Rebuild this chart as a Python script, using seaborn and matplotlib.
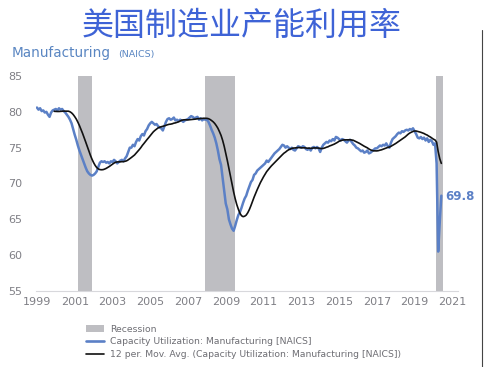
import numpy as np
import pandas as pd
import matplotlib
matplotlib.use("Agg")
import matplotlib.pyplot as plt
from matplotlib.patches import Patch
from matplotlib.lines import Line2D
import seaborn as sns

# ---- data (monthly) ----
cu_1999 = [80.6, 80.3, 80.5, 80.1, 80.2, 79.9, 80.0, 79.6, 79.3, 79.9, 80.2, 80.3]
cu_2000 = [80.4, 80.2, 80.5, 80.3, 80.4, 80.1, 79.9, 79.6, 79.3, 78.9, 78.4, 77.6]
cu_2001 = [76.8, 76.1, 75.3, 74.6, 74.0, 73.4, 72.8, 72.2, 71.7, 71.4, 71.2, 71.1]
cu_2002 = [71.2, 71.4, 71.7, 72.3, 72.9, 73.1, 73.0, 73.1, 72.9, 73.0, 72.8, 73.1]
cu_2003 = [73.0, 73.3, 73.1, 72.8, 73.0, 73.2, 73.3, 73.1, 73.5, 73.8, 74.4, 75.0]
cu_2004 = [75.0, 75.4, 75.2, 75.8, 76.2, 76.0, 76.6, 76.9, 76.7, 77.3, 77.6, 78.1]
cu_2005 = [78.4, 78.6, 78.4, 78.2, 78.3, 78.0, 77.8, 77.7, 77.4, 78.0, 78.6, 79.0]
cu_2006 = [79.1, 78.9, 79.0, 79.2, 78.8, 78.9, 78.7, 78.9, 78.8, 78.6, 78.8, 78.9]
cu_2007 = [79.0, 79.2, 79.4, 79.3, 79.1, 79.2, 79.3, 78.9, 79.1, 78.8, 79.0, 78.9]
cu_2008 = [78.9, 78.6, 78.1, 77.5, 77.0, 76.4, 75.6, 74.6, 73.4, 72.6, 70.8, 68.9]
cu_2009 = [67.2, 66.4, 65.0, 64.3, 63.7, 63.4, 64.1, 64.9, 65.6, 66.0, 66.6, 67.3]
cu_2010 = [67.9, 68.3, 69.0, 69.6, 70.2, 70.5, 71.2, 71.4, 71.8, 72.0, 72.2, 72.4]
cu_2011 = [72.6, 72.8, 73.2, 73.0, 73.3, 73.6, 73.9, 74.2, 74.4, 74.6, 74.8, 75.1]
cu_2012 = [75.4, 75.3, 75.0, 75.2, 75.0, 74.8, 75.0, 74.7, 74.6, 74.9, 75.2, 75.1]
cu_2013 = [75.0, 75.2, 75.1, 74.8, 74.7, 74.9, 74.6, 75.0, 75.1, 74.9, 75.1, 74.9]
cu_2014 = [74.4, 75.0, 75.4, 75.6, 75.8, 75.7, 76.0, 75.9, 76.2, 76.0, 76.5, 76.4]
cu_2015 = [76.2, 76.0, 76.2, 76.1, 75.9, 75.7, 76.0, 76.1, 75.8, 75.5, 75.3, 75.0]
cu_2016 = [74.9, 74.7, 74.5, 74.6, 74.3, 74.4, 74.6, 74.2, 74.3, 74.5, 74.7, 74.9]
cu_2017 = [74.9, 75.1, 75.3, 75.2, 75.4, 75.3, 75.6, 75.2, 75.0, 75.7, 76.2, 76.4]
cu_2018 = [76.6, 76.9, 77.1, 77.0, 77.3, 77.2, 77.4, 77.5, 77.4, 77.6, 77.5, 77.7]
cu_2019 = [77.3, 76.9, 76.4, 76.3, 76.5, 76.2, 76.4, 76.0, 76.3, 75.8, 76.1, 75.9]
cu_2020 = [75.4, 75.6, 72.8, 60.5, 64.6, 68.3]

recession_start = [2001.17, 2007.92, 2020.12]
recession_end = [2001.92, 2009.50, 2020.50]

year_ticks = list(range(1999, 2022, 2))
y_ticks = [55, 60, 65, 70, 75, 80, 85]
last_label = "69.8"

title = "美国制造业产能利用率"
subtitle = "Manufacturing"
subtitle_small = "(NAICS)"
legend_labels = ["Recession",
                 "Capacity Utilization: Manufacturing [NAICS]",
                 "12 per. Mov. Avg. (Capacity Utilization: Manufacturing [NAICS])"]

# ---- build frame ----
values = (cu_1999 + cu_2000 + cu_2001 + cu_2002 + cu_2003 + cu_2004 + cu_2005 +
          cu_2006 + cu_2007 + cu_2008 + cu_2009 + cu_2010 + cu_2011 + cu_2012 +
          cu_2013 + cu_2014 + cu_2015 + cu_2016 + cu_2017 + cu_2018 + cu_2019 + cu_2020)
t = 1999 + np.arange(len(values)) / 12.0
df = pd.DataFrame({"t": t, "cu": values})
df["ma"] = df["cu"].rolling(12).mean()

BLUE = "#5B80C6"
GRAY = "#BEBEC2"
TXT = "#7F7F85"

sns.set_theme(style="white")
plt.rcParams["font.family"] = ["DejaVu Sans", "Noto Sans CJK SC"]

fig = plt.figure(figsize=(4.84, 3.67), dpi=100)
ax = fig.add_axes([36/484, 1 - 291/367, (458 - 36)/484, (291 - 76)/367])

for s, e in zip(recession_start, recession_end):
    ax.axvspan(s, e, color=GRAY, lw=0, zorder=0)

sns.lineplot(data=df, x="t", y="cu", ax=ax, color=BLUE, lw=1.8, zorder=3)
sns.lineplot(data=df.dropna(), x="t", y="ma", ax=ax, color="#111111", lw=1.2, zorder=4)

ax.set_xlim(1998.95, 2021.3)
ax.set_ylim(55, 85)
ax.set_xticks(year_ticks)
ax.set_xticklabels([str(y) for y in year_ticks])
ax.set_yticks(y_ticks)
ax.tick_params(axis="both", length=0, labelsize=8, colors=TXT)
ax.tick_params(axis="x", pad=4)
ax.tick_params(axis="y", pad=10)
ax.set_xlabel("")
ax.set_ylabel("")
for side in ["top", "right", "left"]:
    ax.spines[side].set_visible(False)
ax.spines["bottom"].set_color("#D8D8DC")
ax.spines["bottom"].set_linewidth(0.8)
ax.grid(False)

ax.text(2020.62, 68.2, last_label, color=BLUE, fontsize=8.5, fontweight="bold",
        va="center", ha="left")

fig.text(0.5, 1 - 26/367, title, ha="center", va="center", fontsize=23,
         color="#3E63D6", family=["Noto Sans CJK SC", "DejaVu Sans"])
fig.text(12/484, 1 - 53/367, subtitle, ha="left", va="center", fontsize=9.8,
         color="#5A86C2")
fig.text(118/484, 1 - 54/367, subtitle_small, ha="left", va="center", fontsize=6.8,
         color="#5A86C2")

handles = [Patch(facecolor=GRAY, edgecolor="none"),
           Line2D([0], [0], color=BLUE, lw=1.9),
           Line2D([0], [0], color="#111111", lw=1.2)]
leg = fig.legend(handles, legend_labels, loc="upper left",
                 bbox_to_anchor=(82/484, 1 - 321/367), frameon=False,
                 fontsize=6.7, handlelength=2.0, handleheight=0.7,
                 labelspacing=0.4, handletextpad=0.6, borderaxespad=0)
for txt in leg.get_texts():
    txt.set_color("#6E6E74")

fig.add_artist(Line2D([482/484, 482/484], [0, 1 - 30/367], color="#444444", lw=0.8))

fig.savefig("out.png", dpi=100)
